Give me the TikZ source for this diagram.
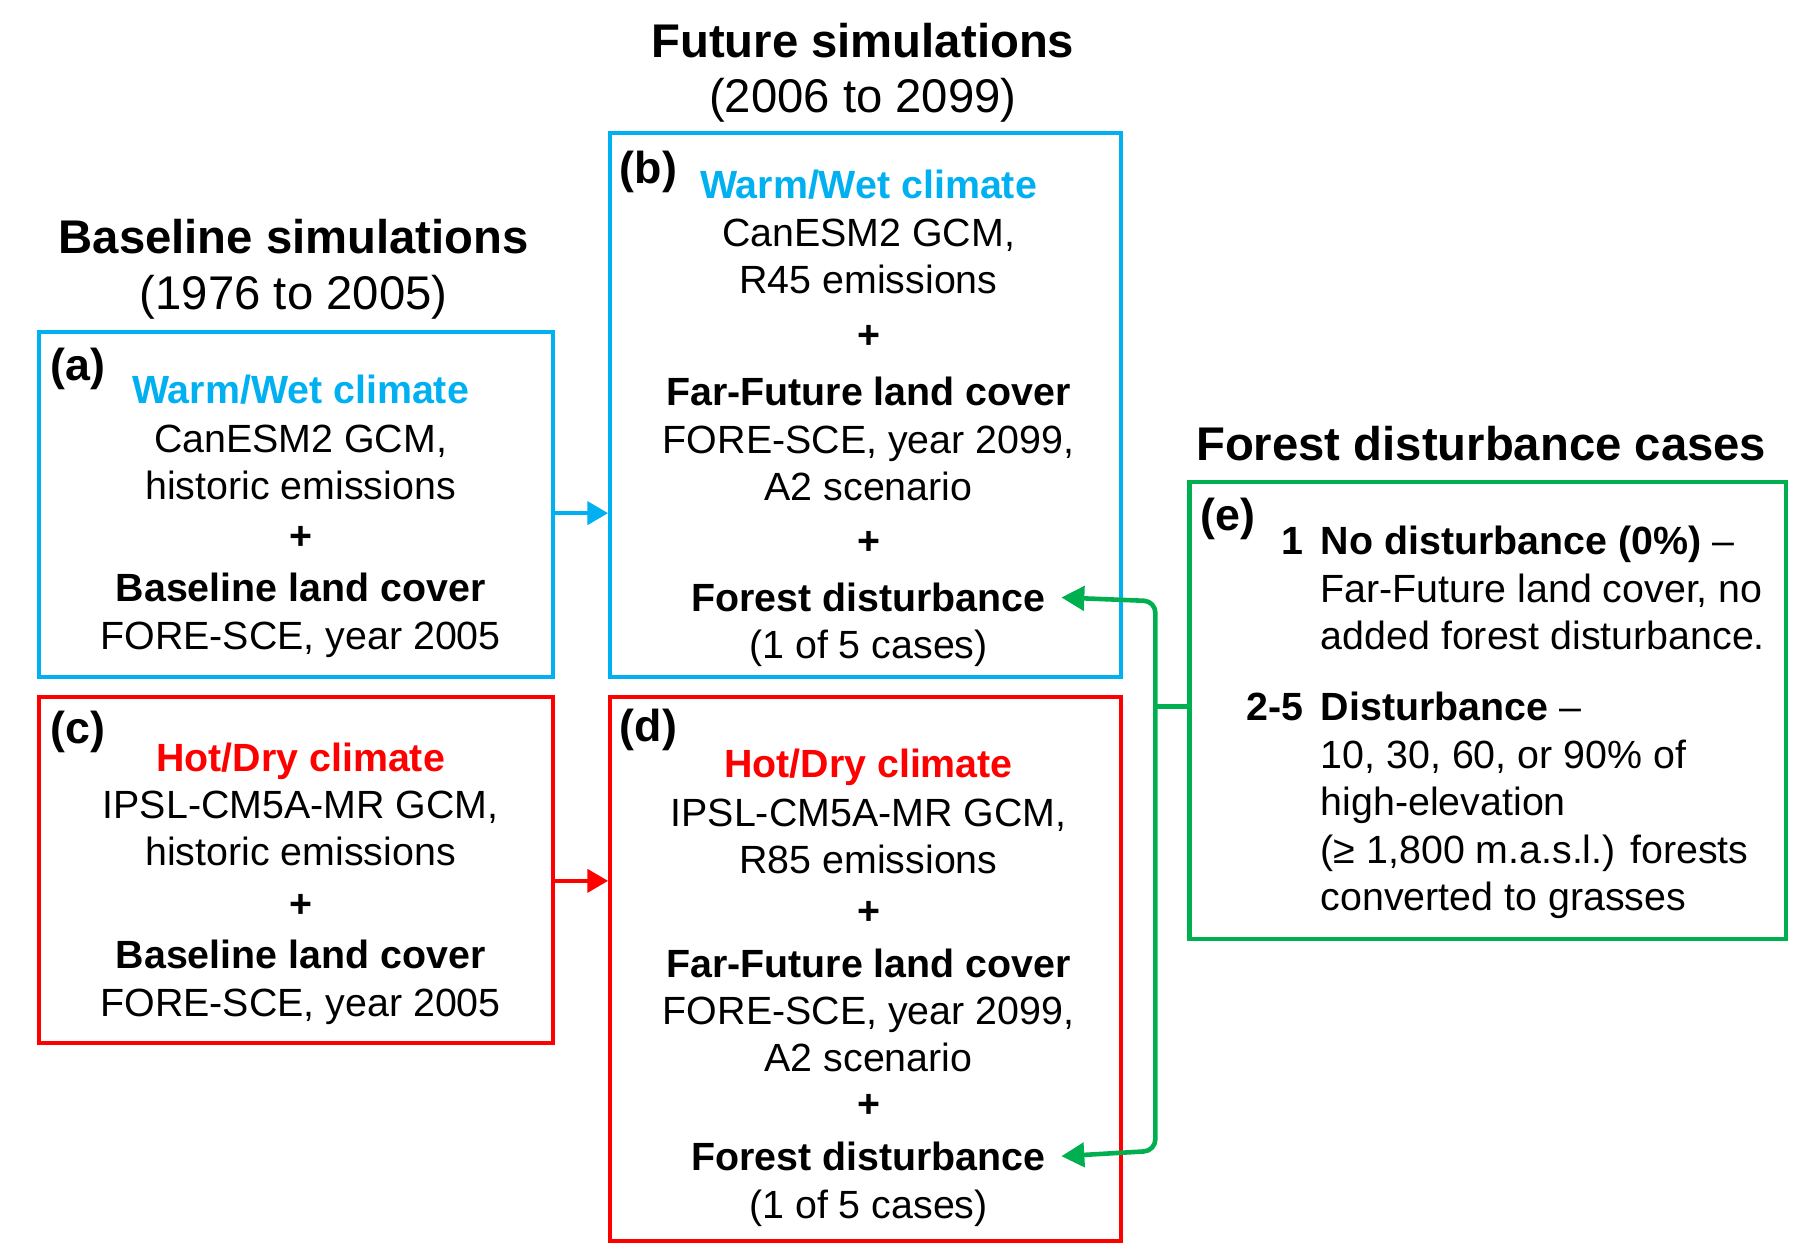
\documentclass[tikz,border=0pt]{standalone}
\usepackage{fontspec}
\setmainfont{Liberation Sans}
\usetikzlibrary{arrows.meta}
\definecolor{cblue}{RGB}{0,176,240}
\definecolor{cred}{RGB}{255,0,0}
\definecolor{cgreen}{RGB}{0,176,80}
\begin{document}
\begin{tikzpicture}[x=1bp,y=-1bp,
  txt/.style={anchor=base,inner sep=0pt,font=\fontsize{34.3bp}{41bp}\selectfont},
  txtl/.style={txt,anchor=base west},
  txtr/.style={txt,anchor=base east},
  ttl/.style={anchor=base,inner sep=0pt,font=\fontsize{41.2bp}{49bp}\selectfont},
  lbl/.style={anchor=base west,inner sep=0pt,font=\fontsize{39bp}{46bp}\selectfont\bfseries},
  bx/.style={draw=#1,line width=3.5bp,inner sep=0pt,rectangle,anchor=north west},
  barrow/.style={draw=#1,line width=3.5bp,-{Triangle[length=18bp,width=20bp]}},
  gline/.style={draw=cgreen,line width=4bp},
  garrow/.style={gline,-{Triangle[length=20bp,width=21bp]}}]
\useasboundingbox (0,0) rectangle (1568,1094.7);

% titles
\node[ttl] (t1) at (752,50) {\bfseries Future simulations};
\node[ttl] (t2) at (752,98) {(2006 to 2099)};
\node[ttl] (t3) at (256,221) {\bfseries Baseline simulations};
\node[ttl] (t4) at (256,270) {(1976 to 2005)};
\node[ttl] (t5) at (1291,401) {\bfseries Forest disturbance cases};

% boxes
\node[bx=cblue,minimum width=448bp,minimum height=300bp] (a) at (32,288) {};
\node[bx=cblue,minimum width=445.5bp,minimum height=474bp] (b) at (530,114) {};
\node[bx=cred,minimum width=448bp,minimum height=301bp] (c) at (32,606) {};
\node[bx=cred,minimum width=445.5bp,minimum height=474bp] (d) at (530,606) {};
\node[bx=cgreen,minimum width=520bp,minimum height=399bp] (e) at (1035,418) {};

% box a
\node[lbl] (la) at (44,332) {(a)};
\node[txt] (a1) at (262,352) {\bfseries\color{cblue}Warm/Wet climate};
\node[txt] (a2) at (262,394) {CanESM2 GCM,};
\node[txt] (a3) at (262,435) {historic emissions};
\node[txt] (a4) at (262,479) {\bfseries +};
\node[txt] (a5) at (262,524) {\bfseries Baseline land cover};
\node[txt] (a6) at (262,566) {FORE-SCE, year 2005};

% box c
\node[lbl] (lc) at (44,648) {(c)};
\node[txt] (c1) at (262,672) {\bfseries\color{cred}Hot/Dry climate};
\node[txt] (c2) at (262,713) {IPSL-CM5A-MR GCM,};
\node[txt] (c3) at (262,754) {historic emissions};
\node[txt] (c4) at (262,800) {\bfseries +};
\node[txt] (c5) at (262,844) {\bfseries Baseline land cover};
\node[txt] (c6) at (262,886) {FORE-SCE, year 2005};

% box b
\node[lbl] (lb) at (540,160) {(b)};
\node[txt] (b1) at (757,173) {\bfseries\color{cblue}Warm/Wet climate};
\node[txt] (b2) at (757,215) {CanESM2 GCM,};
\node[txt] (b3) at (757,256) {R45 emissions};
\node[txt] (b4) at (757,304) {\bfseries +};
\node[txt] (b5) at (757,353) {\bfseries Far-Future land cover};
\node[txt] (b6) at (757,395) {FORE-SCE, year 2099,};
\node[txt] (b7) at (757,436) {A2 scenario};
\node[txt] (b8) at (757,483) {\bfseries +};
\node[txt] (b9) at (757,533) {\bfseries Forest disturbance};
\node[txt] (b10) at (757,574) {(1 of 5 cases)};

% box d
\node[lbl] (ld) at (540,646) {(d)};
\node[txt] (d1) at (757,678) {\bfseries\color{cred}Hot/Dry climate};
\node[txt] (d2) at (757,720) {IPSL-CM5A-MR GCM,};
\node[txt] (d3) at (757,761) {R85 emissions};
\node[txt] (d4) at (757,806) {\bfseries +};
\node[txt] (d5) at (757,852) {\bfseries Far-Future land cover};
\node[txt] (d6) at (757,893) {FORE-SCE, year 2099,};
\node[txt] (d7) at (757,934) {A2 scenario};
\node[txt] (d8) at (757,974) {\bfseries +};
\node[txt] (d9) at (757,1020) {\bfseries Forest disturbance};
\node[txt] (d10) at (757,1062) {(1 of 5 cases)};

% box e
\node[lbl] (le) at (1046,462) {(e)};
\node[txtr] (en1) at (1136,483) {\bfseries 1};
\node[txtl] (e1) at (1151,483) {{\bfseries No disturbance (0\%)} –};
\node[txtl] (e2) at (1151,525) {Far-Future land cover, no};
\node[txtl] (e3) at (1151,566) {added forest disturbance.};
\node[txtr] (en2) at (1136,628) {\bfseries 2-5};
\node[txtl] (e4) at (1151,628) {{\bfseries Disturbance} –};
\node[txtl] (e5) at (1151,670) {10, 30, 60, or 90\% of};
\node[txtl] (e6) at (1151,711) {high-elevation};
\node[txtl] (e7) at (1151,753) {(≥ 1,800 m.a.s.l.) forests};
\node[txtl] (e8) at (1151,794) {converted to grasses};

% connectors
\draw[barrow=cblue] ([yshift=-7.5bp]a.east) -- ([yshift=-7.5bp]a.east -| b.west);
\draw[barrow=cred] ([yshift=-9.5bp]c.east) -- ([yshift=-9.5bp]c.east -| d.west);
\coordinate (gj) at (1007,616);
\draw[gline] (gj) -- (gj -| e.west);
\draw[garrow,rounded corners=10bp] (gj) -- (1007,524) -- ([xshift=13.5bp]b9.east);
\draw[garrow,rounded corners=10bp] (gj) -- (1007,1003) -- ([xshift=13.5bp]d9.east);
\end{tikzpicture}
\end{document}
